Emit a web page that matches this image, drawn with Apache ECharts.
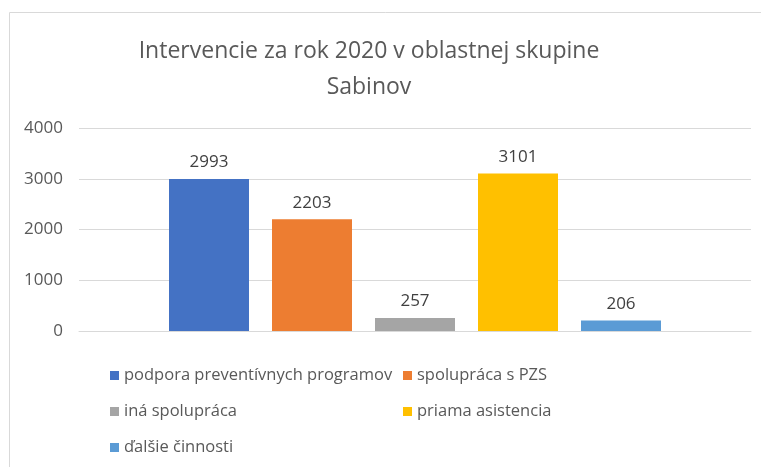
<!DOCTYPE html>
<html>
<head>
<meta charset="utf-8">
<script src="https://cdn.jsdelivr.net/npm/echarts@6/dist/echarts.min.js"></script>
<style>
  html, body { margin: 0; padding: 0; background: #fff; }
  #chart { width: 761px; height: 467px; }
</style>
</head>
<body>
<div id="chart"></div>
<script>
const seriesNames = [
  "podpora preventívnych programov",
  "spolupráca s PZS",
  "iná spolupráca",
  "priama asistencia",
  "ďalšie činnosti",
];
const seriesValues = [2993, 2203, 257, 3101, 206];
const seriesColors = ["#4472C4", "#ED7D31", "#A5A5A5", "#FFC000", "#5B9BD5"];
const categories = [""];

const font = "Open Sans";
const textColor = "#595959";

const chart = echarts.init(document.getElementById("chart"));

const series = seriesNames.map((name, i) => ({
  name: name,
  type: "bar",
  data: [seriesValues[i]],
  barWidth: 80,
  barGap: "28.75%",
  itemStyle: { color: seriesColors[i] },
  label: {
    show: true,
    position: "top",
    distance: 8,
    color: "#404040",
    fontFamily: font,
    fontSize: 17,
  },
}));

const legendBase = {
  orient: "vertical",
  icon: "rect",
  itemWidth: 9,
  itemHeight: 9,
  itemGap: 19,
  textStyle: { color: textColor, fontFamily: font, fontSize: 16.5, lineHeight: 17 },
  selectedMode: false,
};

chart.setOption({
  animation: false,
  title: {
    text: "Intervencie za rok 2020 v oblastnej skupine\nSabinov",
    left: 364,
    top: 28,
    textAlign: "center",
    textStyle: {
      color: textColor,
      fontFamily: font,
      fontSize: 23,
      fontWeight: "normal",
      lineHeight: 36,
    },
  },
  graphic: [
    {
      type: "rect",
      shape: { x: 9.5, y: 12.5, width: 800, height: 500 },
      style: { fill: "none", stroke: "#d9d9d9", lineWidth: 1 },
      z: -1,
    },
  ],
  legend: [
    Object.assign({}, legendBase, {
      left: 105,
      top: 362,
      data: [seriesNames[0], seriesNames[2], seriesNames[4]],
    }),
    Object.assign({}, legendBase, {
      left: 398,
      top: 362,
      data: [seriesNames[1], seriesNames[3]],
    }),
  ],
  grid: {
    left: 79,
    right: 10,
    top: 128,
    bottom: 136,
  },
  xAxis: {
    type: "category",
    data: categories,
    axisTick: { show: false },
    axisLabel: { show: false },
    axisLine: { lineStyle: { color: "#d9d9d9" } },
  },
  yAxis: {
    type: "value",
    min: 0,
    max: 4000,
    interval: 1000,
    axisLine: { show: false },
    axisTick: { show: false },
    axisLabel: {
      color: textColor,
      fontFamily: font,
      fontSize: 17,
      margin: 16,
      formatter: (v) => String(v),
    },
    splitLine: { lineStyle: { color: "#d9d9d9" } },
  },
  series: series,
});
</script>
</body>
</html>
